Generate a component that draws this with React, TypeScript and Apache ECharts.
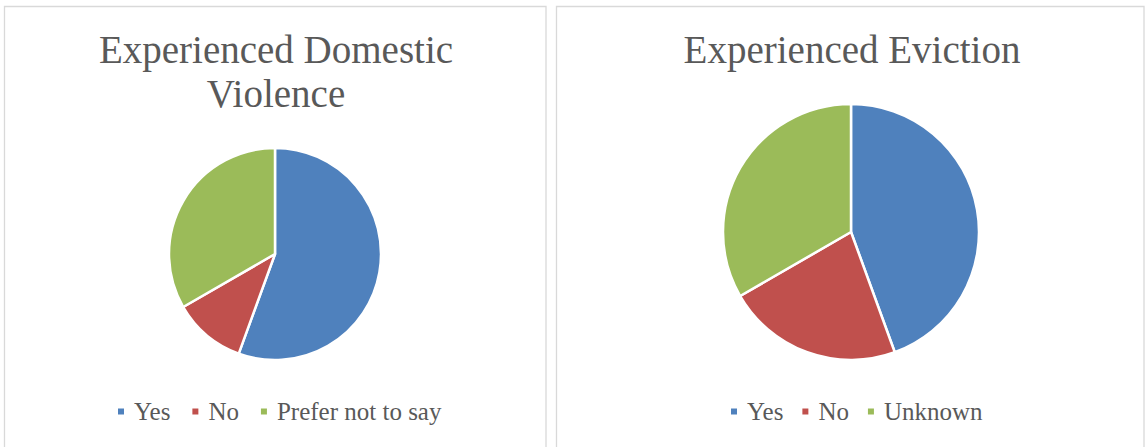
import React, { useEffect, useRef } from "react";
import * as echarts from "echarts";

const violenceCategories = ["Yes", "No", "Prefer not to say"];
const violenceValues = [5, 1, 3];
const evictionCategories = ["Yes", "No", "Unknown"];
const evictionValues = [4, 2, 3];
const palette = ["#4F81BD", "#C0504D", "#9BBB59"];
const titles = ["Experienced Domestic\nViolence", "Experienced Eviction"];

const FONT = "'Liberation Serif', serif";
const TEXT_COLOR = "#595959";

export default function App() {
  const ref = useRef<HTMLDivElement>(null);
  useEffect(() => {
    document.body.style.margin = "0";
    const chart = echarts.init(ref.current!, undefined, { renderer: "svg" });
    const mk = (cats: string[], vals: number[]) =>
      cats.map((c, i) => ({ name: c, value: vals[i], itemStyle: { color: palette[i] } }));
    const legendBase = {
      icon: "rect",
      itemWidth: 8,
      itemHeight: 8,
      padding: 0,
      textStyle: { fontFamily: FONT, fontSize: 25, color: TEXT_COLOR, padding: [0, 0, 0, 4] },
    };
    chart.setOption({
      animation: false,
      backgroundColor: "#ffffff",
      color: palette,
      graphic: [
        {
          type: "rect",
          shape: { x: 4.5, y: 6.5, width: 541.5, height: 460 },
          style: { fill: "none", stroke: "#D9D9D9", lineWidth: 1.3 },
          silent: true,
        },
        {
          type: "rect",
          shape: { x: 556.5, y: 6.5, width: 587.5, height: 460 },
          style: { fill: "none", stroke: "#D9D9D9", lineWidth: 1.3 },
          silent: true,
        },
      ],
      title: [
        {
          text: titles[0],
          left: 271,
          textAlign: "center",
          top: 22,
          textStyle: { fontFamily: FONT, fontSize: 39, fontWeight: "normal", color: TEXT_COLOR, lineHeight: 44 },
        },
        {
          text: titles[1],
          left: 847,
          textAlign: "center",
          top: 22,
          textStyle: { fontFamily: FONT, fontSize: 39, fontWeight: "normal", color: TEXT_COLOR, lineHeight: 44 },
        },
      ],
      legend: [
        {
          ...legendBase,
          data: violenceCategories,
          left: 116,
          top: 399,
          itemGap: 20,
        },
        {
          ...legendBase,
          data: evictionCategories,
          left: 729,
          top: 399,
          itemGap: 17,
        },
      ],
      series: [
        {
          type: "pie",
          center: [275, 254],
          radius: 106,
          startAngle: 90,
          clockwise: true,
          label: { show: false },
          labelLine: { show: false },
          itemStyle: { borderColor: "#ffffff", borderWidth: 2.5 },
          data: mk(violenceCategories, violenceValues),
        },
        {
          type: "pie",
          center: [851, 232],
          radius: 128,
          startAngle: 90,
          clockwise: true,
          label: { show: false },
          labelLine: { show: false },
          itemStyle: { borderColor: "#ffffff", borderWidth: 2.5 },
          data: mk(evictionCategories, evictionValues),
        },
      ],
    });
    return () => chart.dispose();
  }, []);
  return <div ref={ref} style={{ position: "absolute", left: 0, top: 0, width: 1146, height: 447 }} />;
}
